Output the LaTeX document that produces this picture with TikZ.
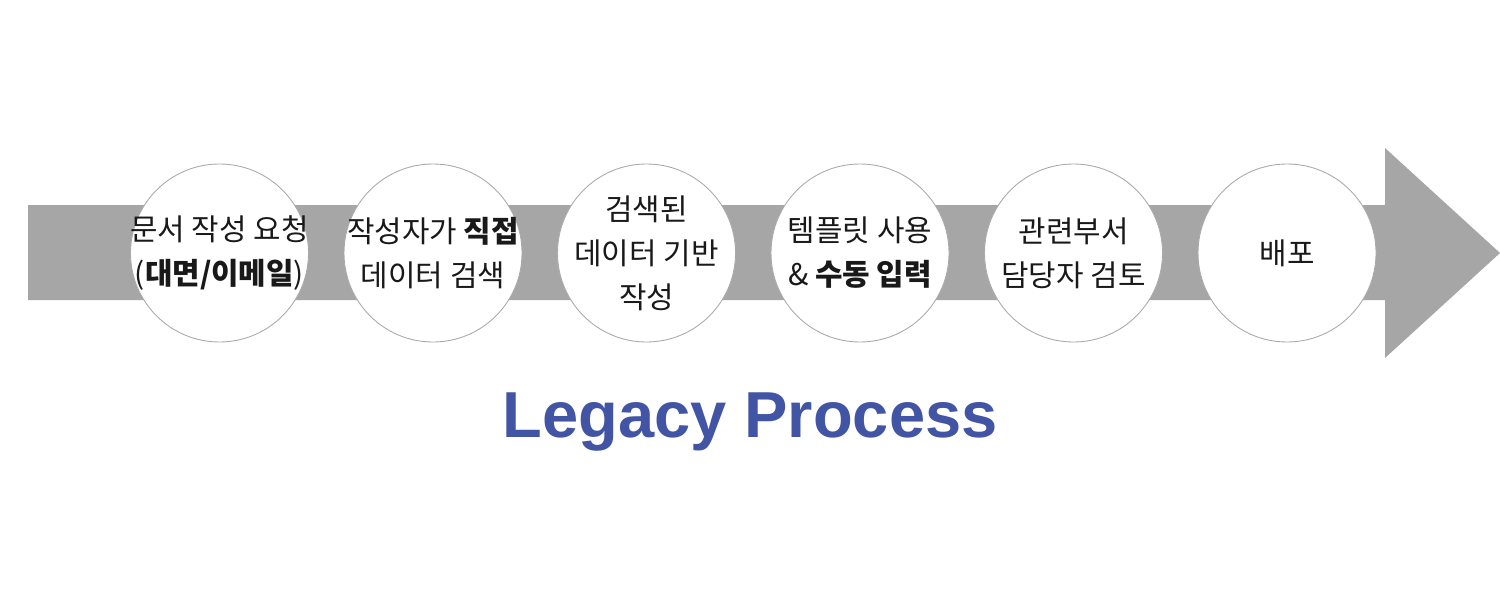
\documentclass[tikz,border=0pt]{standalone}
\usepackage{fontspec}
\setmainfont{Noto Sans CJK KR}
\newfontfamily\titlefont{Liberation Sans}
\usepackage{xcolor}
\definecolor{cgray}{RGB}{166,166,166}
\definecolor{cedge}{RGB}{170,170,170}
\definecolor{cblue}{RGB}{66,84,164}
\usetikzlibrary{positioning}

\begin{document}
\begin{tikzpicture}[
    stepcirc/.style={circle, draw=cedge, fill=white, line width=0.5pt,
                     minimum size=3.56cm, inner sep=0pt},
    steptext/.style={align=center, inner sep=0pt,
                     font=\fontsize{17}{25}\selectfont, text=black!90},
  ]
  \useasboundingbox (0,0) rectangle (30,12);

  %% Big gray arrow
  \fill[cgray] (0.56,6.0) -- (27.7,6.0) -- (27.7,4.84) -- (30,6.94)
    -- (27.7,9.04) -- (27.7,7.9) -- (0.56,7.9) -- cycle;

  %% Steps
  \node[stepcirc, label={[steptext]center:문서 작성 요청\\(\textbf{대면/이메일})}]
    (req) at (4.39, 6.94) {};
  \node[stepcirc, label={[steptext]center:작성자가 \textbf{직접}\\데이터 검색}]
    (search) at (8.66, 6.94) {};
  \node[stepcirc, label={[steptext]center:검색된\\데이터 기반\\작성}]
    (write) at (12.93,6.94) {};
  \node[stepcirc, label={[steptext]center:템플릿 사용\\\& \textbf{수동 입력}}]
    (input) at (17.2, 6.94) {};
  \node[stepcirc, label={[steptext]center:관련부서\\담당자 검토}]
    (review) at (21.47,6.94) {};
  \node[stepcirc, label={[steptext]center:배포}]
    (deploy) at (25.74,6.94) {};

  %% Title
  \node[anchor=base, text=cblue, font=\titlefont\bfseries\fontsize{37}{44}\selectfont]
    (title) at (15,3.26) {Legacy Process};

\end{tikzpicture}
\end{document}
